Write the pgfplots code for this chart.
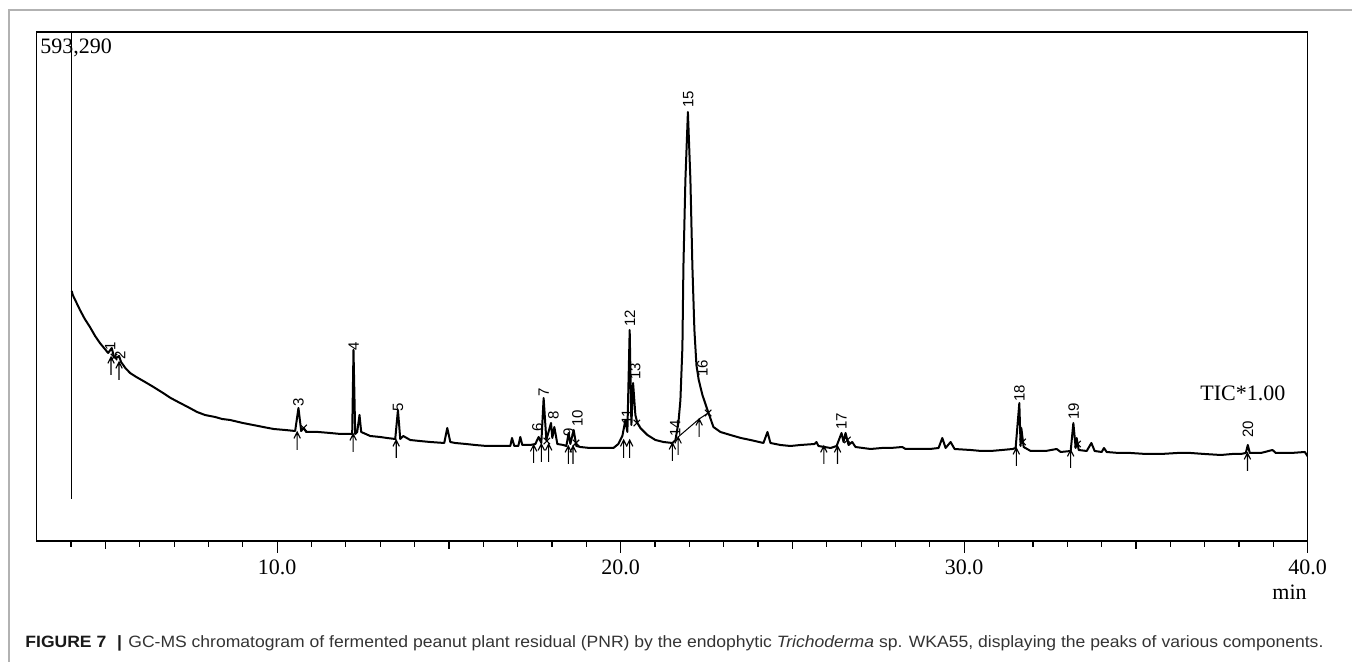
\documentclass[border=0pt]{standalone}
\usepackage{pgfplots}
\pgfplotsset{compat=1.18}
\usepackage{fontspec}
\setmainfont{Liberation Serif}
\newfontfamily\capfont{Liberation Sans}

\pgfdeclareplotmark{pkarrow}{%
  \pgfpathmoveto{\pgfpoint{0pt}{0pt}}\pgfpathlineto{\pgfpoint{0pt}{-9pt}}%
  \pgfpathmoveto{\pgfpoint{-1.6pt}{-3.2pt}}\pgfpathlineto{\pgfpoint{0pt}{0pt}}\pgfpathlineto{\pgfpoint{1.6pt}{-3.2pt}}%
  \pgfusepathqstroke}
\pgfdeclareplotmark{pkx}{%
  \pgfpathmoveto{\pgfpoint{-1.6pt}{-1.6pt}}\pgfpathlineto{\pgfpoint{1.6pt}{1.6pt}}%
  \pgfpathmoveto{\pgfpoint{-1.6pt}{1.6pt}}\pgfpathlineto{\pgfpoint{1.6pt}{-1.6pt}}%
  \pgfusepathqstroke}

\pgfplotstableread{
t h
4.02 250
4.05 246
4.26 231
4.40 222
4.55 214
4.70 205
4.84 198
4.96 193
5.08 188
5.185 193
5.25 184
5.32 183
5.397 185
5.456 179
5.58 173
5.718 168
5.90 164
6.155 159
6.40 154
6.679 148
6.90 143
7.174 138
7.40 134
7.669 129
7.90 126
8.194 124
8.40 122
8.631 121
9.00 118
9.30 116
9.592 114
9.90 112
10.233 111
10.524 110
10.620 133
10.699 110
10.772 113
10.845 109
11.20 109
11.544 108
11.85 107
12.126 107
12.184 107
12.222 191
12.272 107
12.330 109
12.397 126
12.447 109
12.709 105
12.999 104
13.20 103
13.437 102
13.516 131
13.583 102
13.670 105
13.874 101
14.15 100
14.456 99
14.864 98
14.952 113
15.040 99
15.185 98
15.50 97
15.767 96
16.10 95
16.408 95
16.787 95
16.836 103
16.903 95
17.020 95
17.078 104
17.136 96
17.370 96
17.515 97
17.611 104
17.690 98
17.757 143
17.836 101
17.972 118
18.010 103
18.069 114
18.156 97
18.331 96
18.418 95
18.485 108
18.535 97
18.631 111
18.710 95
18.826 94
19.10 93
19.321 93
19.55 93
19.787 93
19.932 97
20.049 105
20.137 121
20.195 109
20.262 211
20.312 116
20.361 158
20.428 126
20.487 118
20.574 113
20.778 106
21.011 101
21.244 99
21.506 98
21.594 101
21.680 118
21.739 141
21.797 194
21.826 274
21.884 361
21.957 429
22.030 361
22.088 274
22.146 211
22.205 176
22.272 161
22.380 146
22.526 131
22.700 114
22.904 109
23.195 106
23.50 103
23.778 101
24.156 98
24.273 109
24.360 98
24.652 96
24.943 95
25.234 96
25.642 97
25.700 99
25.758 95
26.111 93
26.286 95
26.429 108
26.488 99
26.546 108
26.633 96
26.740 99
26.836 94
27.273 92
27.60 93
27.856 93
28.197 94
28.293 92
28.730 92
29.00 92
29.254 93
29.362 103
29.459 93
29.604 99
29.721 92
30.187 91
30.50 90
30.769 90
31.10 91
31.410 92
31.497 93
31.605 138
31.642 95
31.663 113
31.730 94
31.934 90
32.371 90
32.692 92
32.808 89
33.100 90
33.178 118
33.245 93
33.274 103
33.333 91
33.566 90
33.702 98
33.798 90
34.002 89
34.069 93
34.148 89
34.50 88
34.847 88
35.30 87
35.721 87
36.20 88
36.595 88
37.00 87
37.469 86
37.80 87
38.052 87
38.197 88
38.256 96
38.314 88
38.635 88
38.975 91
39.071 88
39.508 88
39.916 89
40.03 83
}\trace

\pgfplotstableread{
t h
5.164 184
5.397 179
10.582 109
12.213 107
13.466 101
17.466 96
17.690 97
17.903 97
18.476 95
18.613 95
20.087 101
20.262 101
21.506 98
21.672 104
22.284 122
25.913 95
26.313 95
31.517 93
33.100 91
38.246 88
}\arrows

\pgfplotstableread{
t h
5.25 184
10.77 113
17.85 100
18.70 98
20.47 118
22.545 128
26.60 101
31.70 99
33.30 97
}\endmarks

\pgfplotstableread{
t h lab
5.138 189 1
5.426 180 2
10.62 133 3
12.23 189 4
13.52 128 5
17.58 108 6
17.76 143 7
18.04 120 8
18.49 103 9
18.74 113 10
20.18 115 11
20.27 213 12
20.42 160 13
21.59 103 14
21.97 432 15
22.38 163 16
26.43 110 17
31.61 138 18
33.19 120 19
38.26 102 20
}\peaklabels

\begin{document}
\begin{tikzpicture}[x=0.5pt,y=0.5pt]
\useasboundingbox (0,0) rectangle (1352,662);
\draw[black!30, line width=1pt] (9,-10) -- (9,652) -- (1362,652);
\begin{axis}[
  at={(18.35pt,60.5pt)}, anchor=south west,
  scale only axis, width=635.5pt, height=254.5pt,
  xmin=3, xmax=40, ymin=0, ymax=509,
  axis line style={line width=0.7pt},
  ytick=\empty,
  xtick={10,20,30,40},
  xticklabels={10.0,20.0,30.0,40.0},
  minor xtick={4,6,7,8,9,11,12,13,14,16,17,18,19,21,22,23,24,26,27,28,29,31,32,33,34,36,37,38,39},
  extra x ticks={5,15,25,35},
  extra x tick labels={},
  extra x tick style={major tick length=4pt},
  tick align=outside, xtick pos=left,
  major tick length=6pt, minor tick length=3pt,
  tick style={black, line width=0.6pt},
  xticklabel style={font=\fontsize{11}{11}\selectfont},
  clip=true,
]
\addplot[black, line width=0.6pt] coordinates {(4.02,42) (4.02,600)};
\addplot[black, line width=1pt, line join=round] table[x=t,y=h] {\trace};
\addplot[black, line width=0.5pt] coordinates {(21.672,104) (22.284,122) (22.545,128)};
\addplot[only marks, mark=pkarrow, mark options={black, line width=0.55pt}] table[x=t,y=h] {\arrows};
\addplot[only marks, mark=pkx, mark options={black, line width=0.55pt}] table[x=t,y=h] {\endmarks};
\addplot[draw=none, mark=none, nodes near coords, point meta=explicit symbolic,
  nodes near coords style={rotate=90, anchor=west, inner sep=0.5pt, font=\capfont\fontsize{7.5}{7.5}\selectfont}]
  table[x=t,y=h,meta=lab] {\peaklabels};
\end{axis}
\node[anchor=base west, inner sep=0pt, font=\fontsize{11}{11}\selectfont] at (40,608) {593,290};
\node[anchor=base west, inner sep=0pt, font=\fontsize{11}{11}\selectfont] at (1200,261) {TIC*1.00};
\node[anchor=base east, inner sep=0pt, font=\fontsize{11}{11}\selectfont] at (1307,62) {min};
\node[anchor=base west, inner sep=0pt, font=\capfont\fontsize{8.2}{10}\selectfont, text=black!80] at (25,14)
  {\resizebox{649pt}{\height}{\textbf{\color{black!90}FIGURE 7}\hspace{5pt}\textbf{\color{black!90}|}\hspace{3pt}GC-MS chromatogram of fermented peanut plant residual (PNR) by the endophytic \textit{Trichoderma} sp. WKA55, displaying the peaks of various components.}};
\end{tikzpicture}
\end{document}
